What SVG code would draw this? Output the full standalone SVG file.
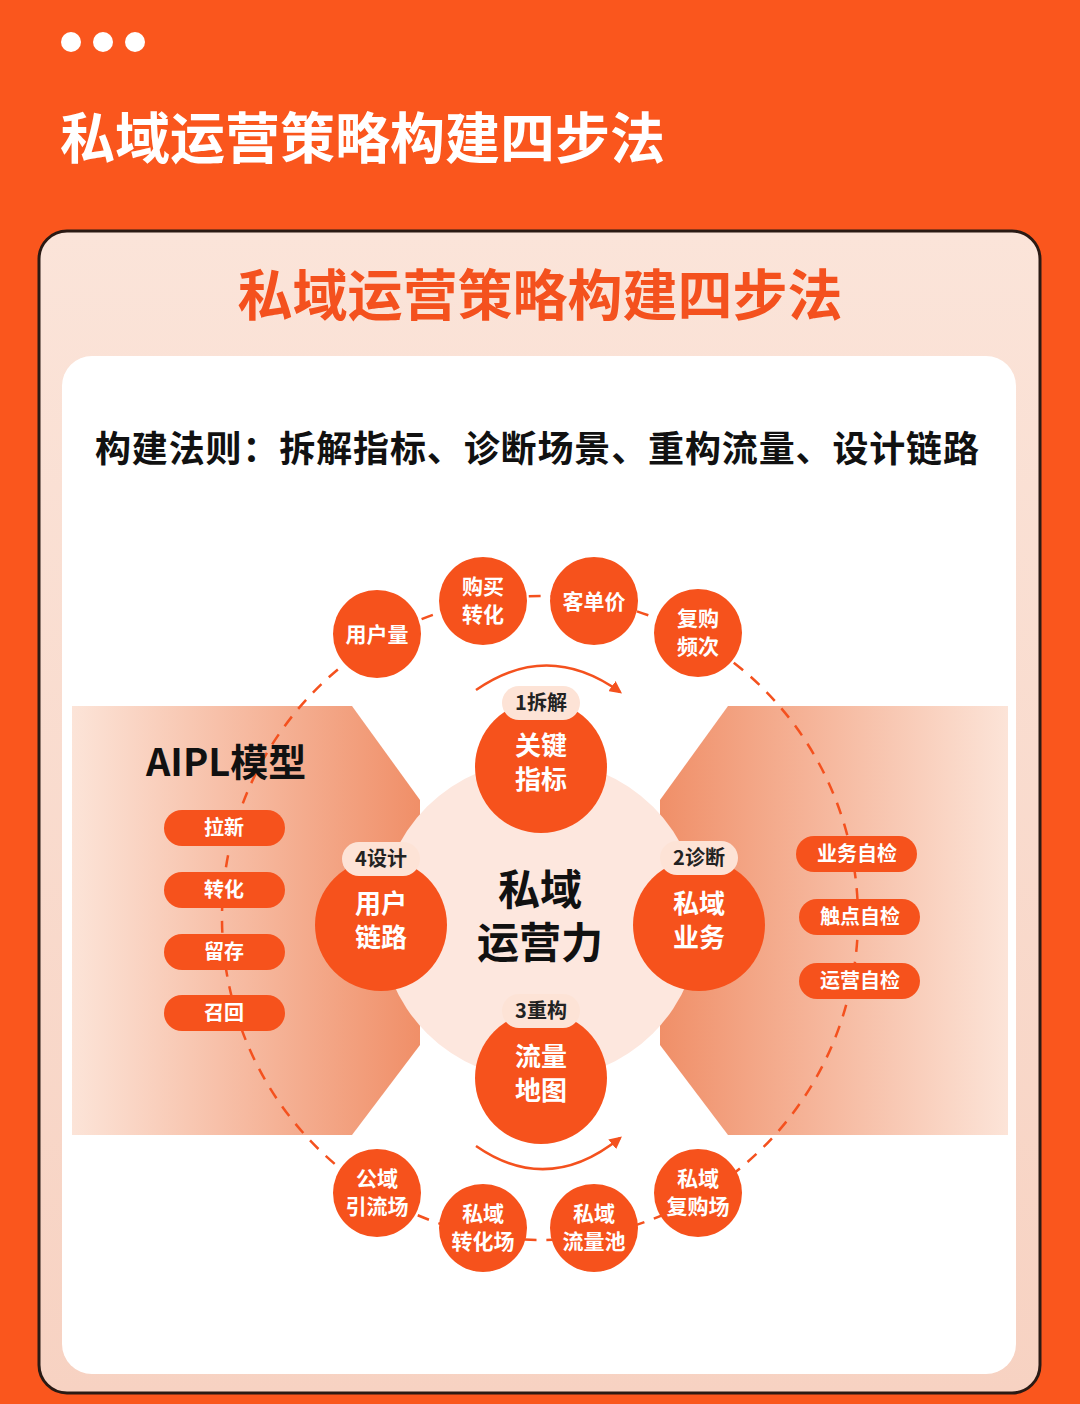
<svg xmlns="http://www.w3.org/2000/svg" width="1080" height="1404" viewBox="0 0 1080 1404">
<defs>
<linearGradient id="gl" x1="0" x2="1" y1="0" y2="0"><stop offset="0" stop-color="#fce4d8"/><stop offset="1" stop-color="#f08f68"/></linearGradient>
<linearGradient id="gr" x1="1" x2="0" y1="0" y2="0"><stop offset="0" stop-color="#fce4d8"/><stop offset="1" stop-color="#f08f68"/></linearGradient>
<linearGradient id="gc" x1="0" x2="0" y1="0" y2="1"><stop offset="0" stop-color="#fbe4d9"/><stop offset="1" stop-color="#f7d2c2"/></linearGradient>
<marker id="ah" viewBox="0 0 10 10" refX="8" refY="5" markerWidth="5" markerHeight="5" orient="auto"><path d="M0,0 L10,5 L0,10 z" fill="#f4511e"/></marker>
<style>
.t{font-family:"Noto Sans CJK SC","Liberation Sans",sans-serif;font-weight:700}
.o{fill:#f6521c}
.w{fill:#fff;font-size:21px;text-anchor:middle}
.b{fill:#fff;font-size:26px;text-anchor:middle}
.p{fill:#fde3d6}
.pl{fill:#222;font-size:20px;text-anchor:middle}
.pw{fill:#fff;font-size:20px;text-anchor:middle}
</style>
</defs>
<rect width="1080" height="1404" fill="#fa561d"/>
<circle cx="71" cy="42" r="10" fill="#fff"/><circle cx="103" cy="42" r="10" fill="#fff"/><circle cx="135" cy="42" r="10" fill="#fff"/>
<text class="t" x="60" y="158" font-size="55" fill="#fff">私域运营策略构建四步法</text>
<rect x="39" y="231" width="1001" height="1162" rx="28" fill="url(#gc)" stroke="#2a1a14" stroke-width="3"/>
<text class="t" x="540" y="315" font-size="55" fill="#f4511e" text-anchor="middle">私域运营策略构建四步法</text>
<rect x="62" y="356" width="954" height="1018" rx="30" fill="#fff"/>
<text class="t" x="537" y="462" font-size="36" fill="#111" text-anchor="middle" textLength="884">构建法则：拆解指标、诊断场景、重构流量、设计链路</text>
<path d="M72,706 H352 L420,800 V1045 L352,1135 H72 Z" fill="url(#gl)"/>
<path d="M1008,706 H728 L660,800 V1045 L728,1135 H1008 Z" fill="url(#gr)"/>
<circle cx="540" cy="920" r="160" fill="#fde7de"/>
<g id="connectors" fill="none" stroke="#f4511e" stroke-width="2.5">
<ellipse cx="540" cy="918" rx="318" ry="322" stroke-dasharray="12 10"/>
<path d="M476,690 Q548,640 620,692" marker-end="url(#ah)"/>
<path d="M476,1146 Q548,1196 620,1138" marker-end="url(#ah)"/>
</g>
<g id="top-nodes" class="t">
<circle class="o" cx="377" cy="634" r="44"/><text class="w" x="377" y="642">用户量</text>
<circle class="o" cx="483" cy="601" r="44"/><text class="w" x="483" y="594">购买</text><text class="w" x="483" y="622">转化</text>
<circle class="o" cx="594" cy="601" r="44"/><text class="w" x="594" y="609">客单价</text>
<circle class="o" cx="698" cy="633" r="44"/><text class="w" x="698" y="626">复购</text><text class="w" x="698" y="654">频次</text>
</g>
<g id="bottom-nodes" class="t">
<circle class="o" cx="377" cy="1193" r="44"/><text class="w" x="377" y="1186">公域</text><text class="w" x="377" y="1214">引流场</text>
<circle class="o" cx="483" cy="1228" r="44"/><text class="w" x="483" y="1221">私域</text><text class="w" x="483" y="1249">转化场</text>
<circle class="o" cx="594" cy="1228" r="44"/><text class="w" x="594" y="1221">私域</text><text class="w" x="594" y="1249">流量池</text>
<circle class="o" cx="698" cy="1193" r="44"/><text class="w" x="698" y="1186">私域</text><text class="w" x="698" y="1214">复购场</text>
</g>
<g id="center" class="t">
<text x="540" y="905" font-size="42" fill="#111" text-anchor="middle">私域</text>
<text x="540" y="958" font-size="42" fill="#111" text-anchor="middle">运营力</text>
</g>
<g id="step1" class="t"><circle class="o" cx="541" cy="767" r="66"/><rect class="p" x="502" y="686" width="78" height="34" rx="17"/><text class="pl" x="541" y="710">1拆解</text><text class="b" x="541" y="755">关键</text><text class="b" x="541" y="789">指标</text></g>
<g id="step2" class="t"><circle class="o" cx="699" cy="925" r="66"/><rect class="p" x="660" y="841" width="78" height="34" rx="17"/><text class="pl" x="699" y="865">2诊断</text><text class="b" x="699" y="913">私域</text><text class="b" x="699" y="947">业务</text></g>
<g id="step3" class="t"><circle class="o" cx="541" cy="1078" r="66"/><rect class="p" x="502" y="994" width="78" height="34" rx="17"/><text class="pl" x="541" y="1018">3重构</text><text class="b" x="541" y="1066">流量</text><text class="b" x="541" y="1100">地图</text></g>
<g id="step4" class="t"><circle class="o" cx="381" cy="925" r="66"/><rect class="p" x="342" y="842" width="78" height="34" rx="17"/><text class="pl" x="381" y="866">4设计</text><text class="b" x="381" y="913">用户</text><text class="b" x="381" y="947">链路</text></g>
<g id="aipl" class="t">
<text x="146" y="776" font-size="38" fill="#111">AIPL模型</text>
<rect class="o" x="164" y="810" width="121" height="36" rx="18"/><text class="pw" x="224" y="835">拉新</text>
<rect class="o" x="164" y="872" width="121" height="36" rx="18"/><text class="pw" x="224" y="897">转化</text>
<rect class="o" x="164" y="934" width="121" height="36" rx="18"/><text class="pw" x="224" y="959">留存</text>
<rect class="o" x="164" y="995" width="121" height="36" rx="18"/><text class="pw" x="224" y="1020">召回</text>
</g>
<g id="check" class="t">
<rect class="o" x="796" y="836" width="121" height="36" rx="18"/><text class="pw" x="857" y="861" font-size="19">业务自检</text>
<rect class="o" x="799" y="899" width="121" height="36" rx="18"/><text class="pw" x="860" y="924" font-size="19">触点自检</text>
<rect class="o" x="799" y="963" width="121" height="36" rx="18"/><text class="pw" x="860" y="988" font-size="19">运营自检</text>
</g>
</svg>
